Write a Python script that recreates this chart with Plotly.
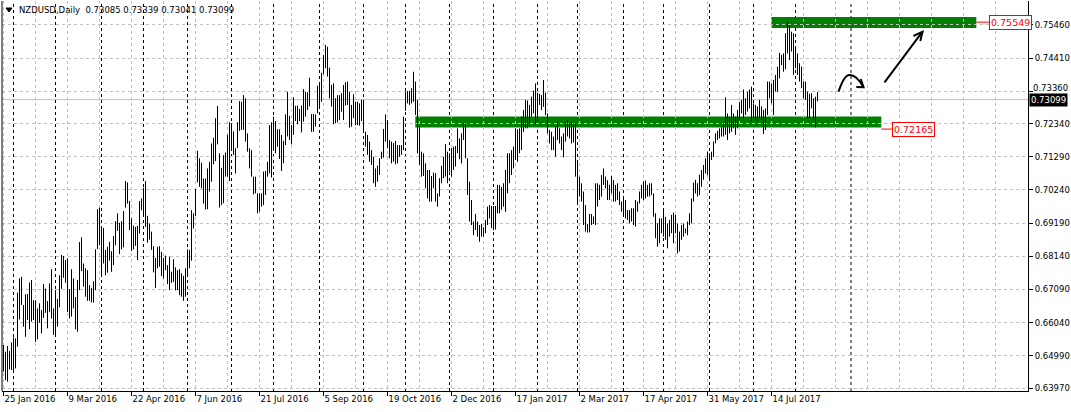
import plotly.graph_objects as go
import pandas as pd

# ---------------- data ----------------
TITLE_TEXT = "NZDUSD,Daily  0.73085 0.73339 0.73041 0.73099"
START_DATE = "2016-01-25"

HIGH = [
    0.6533, 0.6512, 0.6530, 0.6514, 0.6541, 0.6557, 0.6554, 0.6699, 0.6744, 0.6749,
    0.6660, 0.6694, 0.6694, 0.6731, 0.6739, 0.6675, 0.6675, 0.6649, 0.6665, 0.6644,
    0.6726, 0.6712, 0.6672, 0.6728, 0.6773, 0.6649, 0.6707, 0.6679, 0.6754, 0.6818,
    0.6815, 0.6802, 0.6807, 0.6710, 0.6773, 0.6744, 0.6685, 0.6739, 0.6859, 0.6874,
    0.6791, 0.6776, 0.6770, 0.6723, 0.6714, 0.6735, 0.6836, 0.6963, 0.6968, 0.6902,
    0.6904, 0.6834, 0.6844, 0.6860, 0.6830, 0.6878, 0.6925, 0.6950, 0.6920, 0.6925,
    0.6957, 0.7052, 0.7048, 0.6989, 0.6934, 0.6911, 0.6907, 0.6910, 0.6989, 0.6997,
    0.7031, 0.7052, 0.6942, 0.6918, 0.6892, 0.6846, 0.6809, 0.6844, 0.6846, 0.6828,
    0.6809, 0.6816, 0.6786, 0.6813, 0.6765, 0.6805, 0.6779, 0.6770, 0.6773, 0.6760,
    0.6752, 0.6776, 0.6836, 0.6834, 0.6960, 0.6950, 0.7027, 0.7148, 0.7124, 0.7110,
    0.7060, 0.7060, 0.7092,
    0.7113, 0.7171, 0.7189, 0.7251, 0.7290, 0.7140, 0.7094, 0.7134, 0.7143, 0.7198,
    0.7238, 0.7235, 0.7209, 0.7156, 0.7238, 0.7305, 0.7303, 0.7324, 0.7314, 0.7203,
    0.7156, 0.7150, 0.7066, 0.7066, 0.7013, 0.7013, 0.7013, 0.7082, 0.7084, 0.7113,
    0.7229, 0.7238, 0.7256, 0.7242, 0.7216, 0.7216, 0.7198, 0.7179, 0.7263, 0.7335,
    0.7258, 0.7229, 0.7317, 0.7290, 0.7291, 0.7280, 0.7291, 0.7343, 0.7335, 0.7333,
    0.7379, 0.7264, 0.7264, 0.7263, 0.7354, 0.7356, 0.7395, 0.7451, 0.7483, 0.7477,
    0.7411, 0.7356, 0.7361, 0.7314, 0.7324, 0.7324, 0.7330, 0.7356, 0.7365, 0.7367,
    0.7335, 0.7293, 0.7327, 0.7303, 0.7303, 0.7298, 0.7309, 0.7309, 0.7208, 0.7198,
    0.7177, 0.7150, 0.7129, 0.7092, 0.7101, 0.7124, 0.7145, 0.7217, 0.7263, 0.7245,
    0.7182, 0.7177, 0.7172, 0.7179, 0.7166, 0.7166, 0.7166, 0.7256, 0.7335, 0.7337,
    0.7337, 0.7346,
    0.7398, 0.7367, 0.7309, 0.7224, 0.7145, 0.7140, 0.7108, 0.7087, 0.7087, 0.7068,
    0.7079, 0.7077, 0.7013, 0.7061, 0.7100, 0.7129, 0.7169, 0.7145, 0.7140, 0.7156,
    0.7161, 0.7163, 0.7219, 0.7187, 0.7203, 0.7235, 0.7235, 0.7124, 0.7050, 0.6992,
    0.6924, 0.6948, 0.6924, 0.6913, 0.6916, 0.6906, 0.6929, 0.6971, 0.6976, 0.6973,
    0.6973, 0.6973, 0.7040, 0.7040, 0.7034, 0.7045, 0.7087, 0.7140, 0.7140, 0.7150,
    0.7161, 0.7219, 0.7216, 0.7219, 0.7256, 0.7277, 0.7309, 0.7307, 0.7293, 0.7319,
    0.7338, 0.7361, 0.7332, 0.7328, 0.7324, 0.7372, 0.7332, 0.7266, 0.7214, 0.7208,
    0.7193, 0.7224, 0.7240, 0.7219, 0.7193, 0.7203, 0.7240, 0.7245, 0.7235, 0.7240,
    0.7235, 0.7237, 0.7119, 0.7066, 0.7045, 0.7019, 0.6976, 0.6916, 0.6948, 0.6948,
    0.6940, 0.7045, 0.7045, 0.7040, 0.7071, 0.7092, 0.7066, 0.7055, 0.7040, 0.7068,
    0.7055, 0.7040, 0.7045,
    0.7019, 0.6987, 0.7003, 0.6992, 0.6960, 0.6960, 0.6966, 0.6966, 0.6992, 0.6987,
    0.7019, 0.7040, 0.7051, 0.7054, 0.7040, 0.7045, 0.7045, 0.7013, 0.6950, 0.6918,
    0.6934, 0.6934, 0.6966, 0.6939, 0.6918, 0.6929, 0.6945, 0.6952, 0.6945, 0.6918,
    0.6892, 0.6913, 0.6918, 0.6902, 0.6924, 0.6950, 0.6997, 0.7047, 0.7056, 0.7045,
    0.7072, 0.7087, 0.7103, 0.7124, 0.7145, 0.7140, 0.7145, 0.7177, 0.7203, 0.7211,
    0.7219, 0.7222, 0.7235, 0.7317, 0.7266, 0.7256, 0.7293, 0.7266, 0.7256, 0.7277,
    0.7303, 0.7309, 0.7342, 0.7314, 0.7335, 0.7342, 0.7351, 0.7298, 0.7293, 0.7288,
    0.7309, 0.7288, 0.7277, 0.7282, 0.7367, 0.7367, 0.7361, 0.7372, 0.7388, 0.7414,
    0.7458, 0.7451, 0.7456, 0.7520, 0.7557, 0.7546, 0.7525, 0.7520, 0.7472, 0.7456,
    0.7425, 0.7414, 0.7367, 0.7367, 0.7335, 0.7328, 0.7330, 0.7314, 0.7319, 0.73339,
]

LOW = [
    0.6449, 0.6422, 0.6417, 0.6456, 0.6454, 0.6445, 0.6459, 0.6528, 0.6614, 0.6660,
    0.6591, 0.6559, 0.6612, 0.6583, 0.6607, 0.6612, 0.6543, 0.6551, 0.6604, 0.6570,
    0.6619, 0.6635, 0.6586, 0.6638, 0.6617, 0.6565, 0.6565, 0.6591, 0.6652, 0.6711,
    0.6746, 0.6730, 0.6638, 0.6617, 0.6623, 0.6649, 0.6583, 0.6575, 0.6707, 0.6767,
    0.6718, 0.6686, 0.6673, 0.6673, 0.6668, 0.6667, 0.6707, 0.6837, 0.6849, 0.6757,
    0.6791, 0.6754, 0.6762, 0.6800, 0.6765, 0.6786, 0.6849, 0.6894, 0.6821, 0.6836,
    0.6842, 0.6968, 0.6981, 0.6897, 0.6831, 0.6836, 0.6847, 0.6802, 0.6886, 0.6960,
    0.6944, 0.6907, 0.6857, 0.6867, 0.6834, 0.6763, 0.6714, 0.6776, 0.6781, 0.6751,
    0.6744, 0.6770, 0.6726, 0.6707, 0.6730, 0.6733, 0.6706, 0.6707, 0.6691, 0.6686,
    0.6673, 0.6686, 0.6754, 0.6776, 0.6800, 0.6902, 0.6941, 0.7048, 0.7034, 0.7029,
    0.6981, 0.6962, 0.6963,
    0.7019, 0.7050, 0.7105, 0.7115, 0.7168, 0.6968, 0.6976, 0.6982, 0.7066, 0.7066,
    0.7052, 0.7150, 0.7135, 0.7076, 0.7156, 0.7211, 0.7214, 0.7214, 0.7177, 0.7145,
    0.7092, 0.7066, 0.7010, 0.7013, 0.6950, 0.6955, 0.6971, 0.6976, 0.7008, 0.7066,
    0.7076, 0.7063, 0.7156, 0.7140, 0.7161, 0.7122, 0.7084, 0.7108, 0.7166, 0.7193,
    0.7182, 0.7168, 0.7198, 0.7242, 0.7232, 0.7242, 0.7206, 0.7240, 0.7256, 0.7277,
    0.7288, 0.7208, 0.7208, 0.7224, 0.7266, 0.7288, 0.7303, 0.7390, 0.7409, 0.7383,
    0.7314, 0.7288, 0.7232, 0.7235, 0.7238, 0.7245, 0.7272, 0.7245, 0.7291, 0.7293,
    0.7221, 0.7224, 0.7251, 0.7229, 0.7229, 0.7227, 0.7242, 0.7211, 0.7161, 0.7135,
    0.7113, 0.7103, 0.7045, 0.7034, 0.7050, 0.7071, 0.7122, 0.7126, 0.7177, 0.7156,
    0.7124, 0.7108, 0.7113, 0.7105, 0.7108, 0.7129, 0.7135, 0.7150, 0.7274, 0.7298,
    0.7293, 0.7298,
    0.7303, 0.7261, 0.7140, 0.7103, 0.7066, 0.7068, 0.7029, 0.6997, 0.6987, 0.6987,
    0.7029, 0.6987, 0.6971, 0.7003, 0.7045, 0.7061, 0.7066, 0.7045, 0.7082, 0.7066,
    0.7087, 0.7098, 0.7140, 0.7121, 0.7108, 0.7182, 0.7124, 0.7008, 0.6924, 0.6913,
    0.6881, 0.6897, 0.6876, 0.6860, 0.6876, 0.6876, 0.6887, 0.6913, 0.6934, 0.6903,
    0.6897, 0.6899, 0.6950, 0.6950, 0.6961, 0.6971, 0.6955, 0.7013, 0.7045, 0.7071,
    0.7092, 0.7119, 0.7113, 0.7140, 0.7150, 0.7208, 0.7219, 0.7219, 0.7229, 0.7256,
    0.7266, 0.7229, 0.7240, 0.7293, 0.7277, 0.7287, 0.7261, 0.7203, 0.7171, 0.7150,
    0.7150, 0.7129, 0.7182, 0.7171, 0.7150, 0.7127, 0.7177, 0.7193, 0.7187, 0.7171,
    0.7174, 0.7066, 0.6976, 0.7003, 0.6987, 0.6913, 0.6892, 0.6889, 0.6890, 0.6913,
    0.6916, 0.6913, 0.6971, 0.6992, 0.7003, 0.7040, 0.7029, 0.6992, 0.6992, 0.7013,
    0.6987, 0.6987, 0.6992,
    0.6976, 0.6955, 0.6939, 0.6934, 0.6929, 0.6918, 0.6924, 0.6913, 0.6908, 0.6955,
    0.6981, 0.6997, 0.6992, 0.6997, 0.7003, 0.7003, 0.7008, 0.6939, 0.6871, 0.6844,
    0.6855, 0.6887, 0.6876, 0.6866, 0.6839, 0.6876, 0.6887, 0.6855, 0.6887, 0.6823,
    0.6829, 0.6866, 0.6876, 0.6887, 0.6881, 0.6913, 0.6918, 0.6987, 0.7013, 0.7003,
    0.7008, 0.7034, 0.7056, 0.7076, 0.7071, 0.7058, 0.7119, 0.7129, 0.7171, 0.7182,
    0.7187, 0.7193, 0.7193, 0.7198, 0.7182, 0.7203, 0.7208, 0.7219, 0.7198, 0.7219,
    0.7245, 0.7266, 0.7251, 0.7261, 0.7272, 0.7282, 0.7240, 0.7251, 0.7245, 0.7240,
    0.7251, 0.7245, 0.7201, 0.7214, 0.7261, 0.7314, 0.7298, 0.7261, 0.7335, 0.7335,
    0.7377, 0.7419, 0.7398, 0.7406, 0.7456, 0.7435, 0.7462, 0.7388, 0.7409, 0.7388,
    0.7367, 0.7346, 0.7314, 0.7309, 0.7251, 0.7251, 0.7282, 0.7245, 0.7222, 0.73041,
]

TICK_LABELS = ["25 Jan 2016", "9 Mar 2016", "22 Apr 2016", "7 Jun 2016", "21 Jul 2016",
               "5 Sep 2016", "19 Oct 2016", "2 Dec 2016", "17 Jan 2017", "2 Mar 2017",
               "17 Apr 2017", "31 May 2017", "14 Jul 2017"]
Y_TICKS = [0.75460, 0.74410, 0.73360, 0.72340, 0.71290, 0.70240, 0.69190,
           0.68140, 0.67090, 0.66040, 0.64990, 0.63970]
LAST_PRICE = 0.73099
UPPER_LEVEL = 0.75549
LOWER_LEVEL = 0.72165

# drawn objects (bar-index / price coordinates)
UPPER_ZONE = dict(x0=383.9, x1=486.4, y0=0.75365, y1=0.75713)
LOWER_ZONE = dict(x0=205.9, x1=438.9, y0=0.72213, y1=0.72562)
UPPER_LABEL_X = 492.9
LOWER_LABEL_X = 444.4

# ---------------- styling ----------------
FONT = "DejaVu Sans"
FS = 8.5
GRID = "#C0C0C0"
GREEN = "#008000"
W, H = 1071, 412
ML, MR, MT, MB = 2, 43, 1, 21
X_RANGE = [-0.75, 512.25]
Y_RANGE = [0.63876, 0.76219]

n = len(HIGH)
dates = pd.bdate_range(START_DATE, periods=n)
labels_all = [f"{d.day} {d.strftime('%b %Y')}" for d in dates]
tick_pos = [labels_all.index(t) for t in TICK_LABELS]

xs, ys = [], []
for i, (h, l) in enumerate(zip(HIGH, LOW)):
    xs += [i, i, None]
    ys += [l, h, None]

fig = go.Figure()
fig.add_trace(go.Scatter(x=xs, y=ys, mode="lines",
                         line=dict(color="black", width=1),
                         hoverinfo="skip", showlegend=False))

shapes = []
for z in (UPPER_ZONE, LOWER_ZONE):
    shapes.append(dict(type="rect", xref="x", yref="y", layer="below",
                       fillcolor=GREEN, line=dict(width=0), **z))

# monthly separators: existing bars + the next (future) month start, on calendar days
sep_pos = [i for i in range(1, n) if dates[i].month != dates[i - 1].month]
last = dates[-1]
next_month = pd.Timestamp(year=last.year, month=last.month, day=1) + pd.offsets.MonthBegin(1)
sep_pos.append((n - 1) + (next_month - last).days + 0.75)
for p in sep_pos:
    shapes.append(dict(type="line", xref="x", yref="paper", x0=p, x1=p, y0=0, y1=1,
                       layer="below", line=dict(color="black", width=1, dash="3px,3px")))

shapes.append(dict(type="line", xref="paper", yref="y", x0=0, x1=1,
                   y0=LAST_PRICE, y1=LAST_PRICE, layer="below",
                   line=dict(color=GRID, width=1)))
shapes.append(dict(type="line", xref="paper", yref="paper", x0=0, x1=0, y0=0, y1=1,
                   line=dict(color="black", width=1)))
shapes.append(dict(type="line", xref="x", yref="y", x0=UPPER_ZONE["x1"], x1=UPPER_LABEL_X,
                   y0=UPPER_LEVEL, y1=UPPER_LEVEL, line=dict(color="red", width=1)))
shapes.append(dict(type="line", xref="x", yref="y", x0=LOWER_ZONE["x1"], x1=LOWER_LABEL_X,
                   y0=LOWER_LEVEL, y1=LOWER_LEVEL, line=dict(color="red", width=1)))

# hand drawn arrows
shapes.append(dict(type="path", xref="x", yref="y",
                   path="M 417.5,0.73349 Q 420.5,0.7392 423.4,0.73877 Q 426.8,0.7386 430.0,0.73488",
                   line=dict(color="black", width=2)))
shapes.append(dict(type="path", xref="x", yref="y",
                   path="M 428.6,0.73751 L 430.0,0.73488 L 426.4,0.73498",
                   line=dict(color="black", width=2)))
shapes.append(dict(type="path", xref="x", yref="y",
                   path="M 440.5,0.73646 L 459.5,0.75248",
                   line=dict(color="black", width=2)))
shapes.append(dict(type="path", xref="x", yref="y",
                   path="M 455.0,0.75112 L 459.5,0.75248 L 458.4,0.74953",
                   line=dict(color="black", width=2)))

pw, ph = W - ML - MR, H - MT - MB
def px(x): return (x - ML) / pw
def py(y): return 1 - (y - MT) / ph
shapes.append(dict(type="path", xref="paper", yref="paper",
                   path=f"M {px(6)},{py(8)} L {px(12)},{py(8)} L {px(9)},{py(12)} Z",
                   fillcolor="black", line=dict(color="black", width=1)))

# y tick label next to the current-price box is nudged up (as in the terminal)
NUDGED = 0.73360
ytext = ["" if v == NUDGED else f"{v:.5f}" for v in Y_TICKS]

annotations = [
    dict(text=TITLE_TEXT, xref="paper", yref="paper", x=px(17), y=py(10),
         xanchor="left", yanchor="middle", showarrow=False,
         font=dict(family=FONT, size=FS, color="black")),
    dict(text=f"{UPPER_LEVEL:.5f}", xref="x", yref="y", x=UPPER_LABEL_X, y=UPPER_LEVEL,
         xanchor="left", yanchor="middle", showarrow=False, bgcolor="white",
         bordercolor="red", borderwidth=1, borderpad=1,
         font=dict(family=FONT, size=9.5, color="red")),
    dict(text=f"{LOWER_LEVEL:.5f}", xref="x", yref="y", x=LOWER_LABEL_X, y=LOWER_LEVEL,
         xanchor="left", yanchor="middle", showarrow=False, bgcolor="white",
         bordercolor="red", borderwidth=1, borderpad=1,
         font=dict(family=FONT, size=9.5, color="red")),
    dict(text=f"{NUDGED:.5f}", xref="paper", yref="y", x=1, y=NUDGED,
         xanchor="left", yanchor="middle", showarrow=False, xshift=3, yshift=3,
         font=dict(family=FONT, size=FS, color="black")),
    dict(text=f"{LAST_PRICE:.5f}", xref="paper", yref="y", x=1, y=LAST_PRICE,
         xanchor="left", yanchor="middle", showarrow=False, bgcolor="black",
         borderpad=1, xshift=1,
         font=dict(family=FONT, size=FS, color="white")),
]

minor_vals = [v for v in range(16, 513, 16) if v not in tick_pos]

fig.update_layout(
    width=W, height=H,
    margin=dict(l=ML, r=MR, t=MT, b=MB, pad=0, autoexpand=False),
    paper_bgcolor="white", plot_bgcolor="white",
    font=dict(family=FONT, size=FS, color="black"),
    showlegend=False,
    shapes=shapes, annotations=annotations,
    xaxis=dict(range=X_RANGE, tickmode="array", tickvals=tick_pos, ticktext=TICK_LABELS,
               ticks="outside", ticklen=4, tickcolor="black", tickwidth=1,
               ticklabelposition="outside right", tickangle=0, automargin=False,
               showline=True, linecolor="black", linewidth=1,
               showgrid=True, gridcolor=GRID, griddash="3px,3px", gridwidth=1,
               zeroline=False, fixedrange=True,
               minor=dict(tickvals=minor_vals, showgrid=True, gridcolor=GRID,
                          griddash="3px,3px", gridwidth=1, ticks="")),
    yaxis=dict(range=Y_RANGE, side="right", tickmode="array", tickvals=Y_TICKS,
               ticktext=ytext, automargin=False,
               ticks="outside", ticklen=4, tickcolor="black", tickwidth=1,
               showline=True, linecolor="black", linewidth=1,
               showgrid=True, gridcolor=GRID, griddash="3px,3px", gridwidth=1,
               zeroline=False, fixedrange=True),
)

fig.write_html("out.html", config={"displayModeBar": False},
               post_script="document.body.style.margin='0';")
